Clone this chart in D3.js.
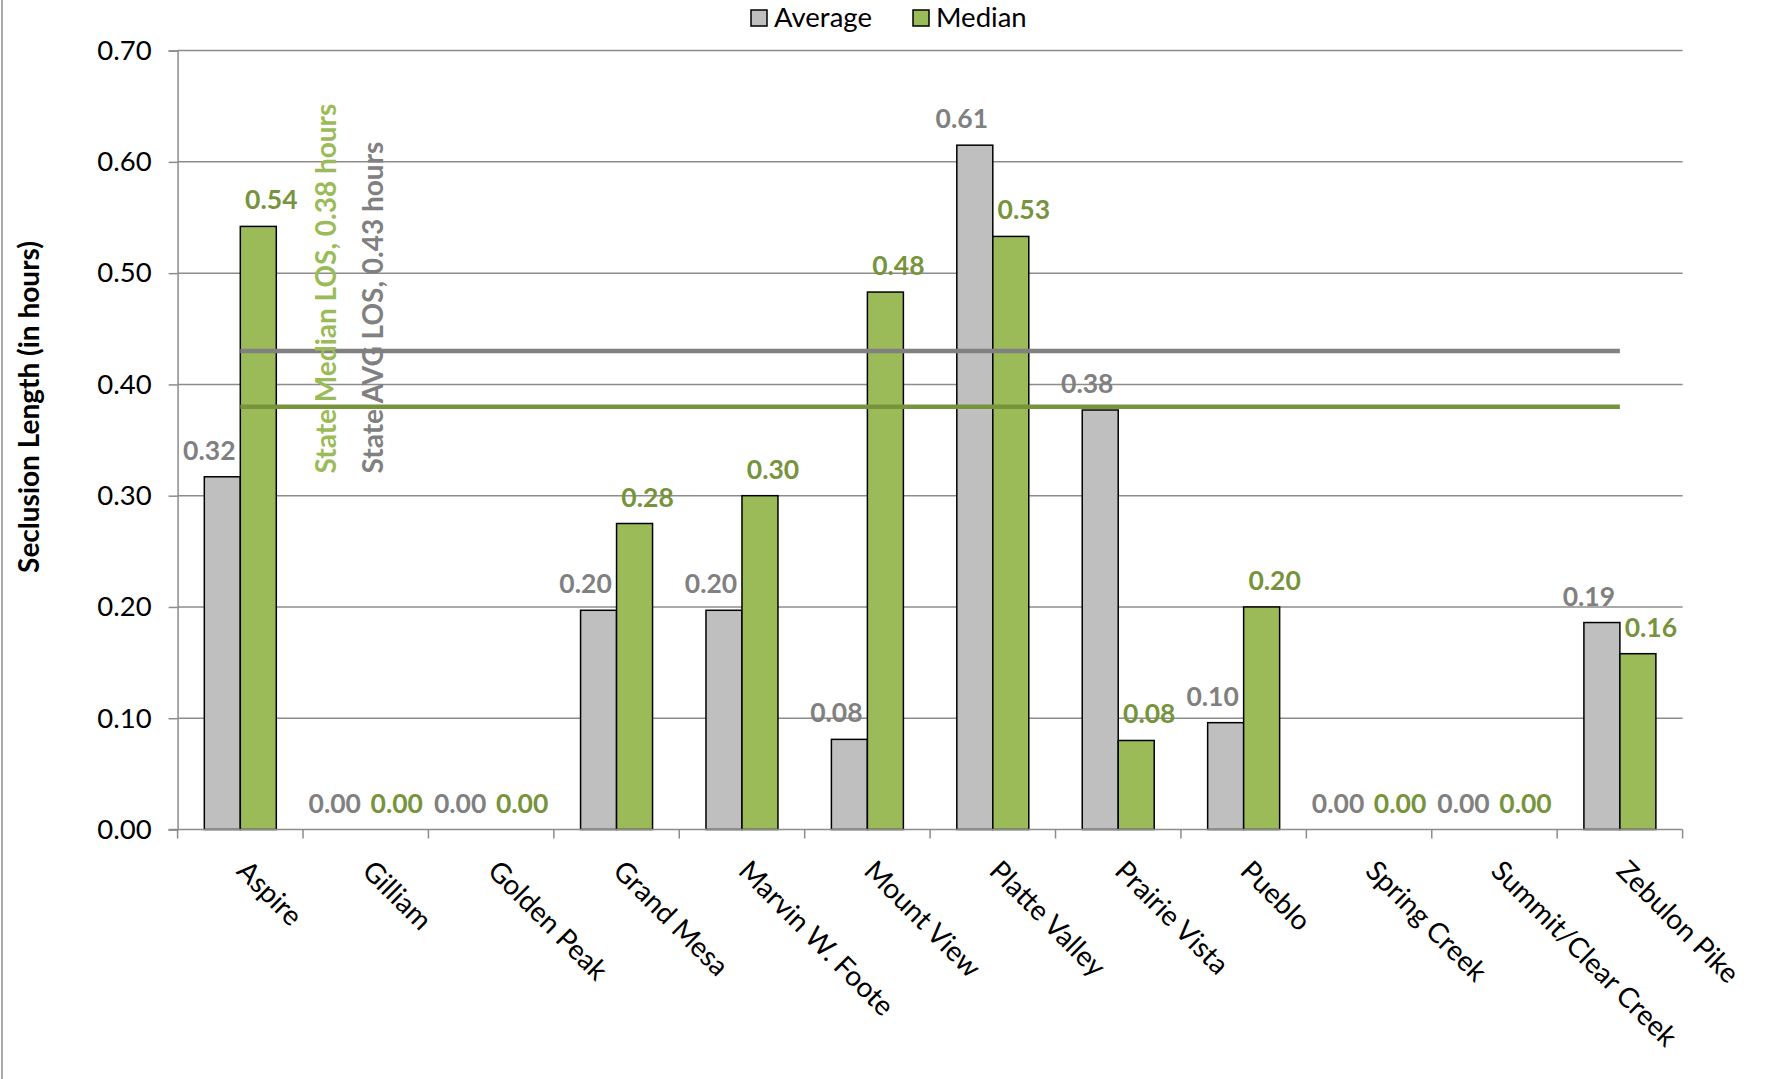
<!DOCTYPE html>
<html lang="en">
<head>
    <meta charset="UTF-8">
    <title>Seclusion Length</title>
    <script src="https://d3js.org/d3.v7.min.js"></script>
    <style>
        body { margin: 0; background: #fff; }
        text { font-family: Lato, "Open Sans", sans-serif; }
    </style>
</head>
<body>
<svg id="chart"></svg>
<script>
    // facility names along the x axis
    const categories = ["Aspire", "Gilliam", "Golden Peak", "Grand Mesa", "Marvin W. Foote",
        "Mount View", "Platte Valley", "Prairie Vista", "Pueblo", "Spring Creek",
        "Summit/Clear Creek", "Zebulon Pike"];
    const seriesNames = ["Average", "Median"];
    const averageValues = [0.317, 0, 0, 0.197, 0.197, 0.081, 0.615, 0.377, 0.096, 0, 0, 0.186];
    const medianValues = [0.542, 0, 0, 0.275, 0.300, 0.483, 0.533, 0.080, 0.200, 0, 0, 0.158];
    const yTicks = [0, 0.1, 0.2, 0.3, 0.4, 0.5, 0.6, 0.7];
    // state reference values
    const stateAvg = 0.43;
    const stateMedian = 0.38;

    const width = 1765, height = 1079;
    const margin = {top: 50.6, right: 82.4, bottom: 249.5, left: 177.6};

    const barFill = {Average: "#bfbfbf", Median: "#9bbb59"};
    const labelFill = {Average: "#808080", Median: "#77933c"};

    const svg = d3.select("#chart")
        .attr("width", width)
        .attr("height", height);

    // chart border on the left edge
    svg.append("line")
        .attr("x1", 2).attr("x2", 2)
        .attr("y1", 0).attr("y2", height)
        .attr("stroke", "#8c8c8c")
        .attr("stroke-width", 1.5);

    const x = d3.scaleBand()
        .domain(categories)
        .range([margin.left, width - margin.right])
        .padding(0);

    const y = d3.scaleLinear()
        .domain([0, 0.7])
        .range([height - margin.bottom, margin.top]);

    const bw = x.bandwidth();
    const x1 = d3.scaleBand()
        .domain(seriesNames)
        .range([bw * 0.213, bw * 0.787]);

    // gridlines
    svg.append("g")
        .selectAll("line")
        .data(yTicks.slice(1))
        .join("line")
        .attr("x1", margin.left)
        .attr("x2", width - margin.right)
        .attr("y1", d => y(d))
        .attr("y2", d => y(d))
        .attr("stroke", "#8c8c8c")
        .attr("stroke-width", 1.5);

    // y axis
    const yAxis = svg.append("g")
        .attr("transform", `translate(${margin.left},0)`)
        .call(d3.axisLeft(y).tickValues(yTicks).tickFormat(d3.format(".2f")).tickSize(9).tickPadding(17));
    yAxis.selectAll("path, line").attr("stroke", "#8c8c8c").attr("stroke-width", 1.5);
    yAxis.selectAll("text").attr("font-size", 27.5).attr("fill", "#000")
        .attr("font-family", "Lato, sans-serif");

    // bars
    const series = [
        {name: "Average", values: averageValues},
        {name: "Median", values: medianValues}
    ];

    const groups = svg.append("g")
        .selectAll("g")
        .data(series)
        .join("g");

    groups.selectAll("rect")
        .data(s => s.values.map((v, i) => ({name: s.name, cat: categories[i], v: v})))
        .join("rect")
        .attr("x", d => x(d.cat) + x1(d.name))
        .attr("y", d => y(d.v))
        .attr("width", x1.bandwidth())
        .attr("height", d => y(0) - y(d.v))
        .attr("fill", d => barFill[d.name])
        .attr("stroke", d => d.v > 0 ? "#000" : "none")
        .attr("stroke-width", 1.5);

    // x axis
    const xAxisY = y(0);
    svg.append("line")
        .attr("x1", margin.left - 9).attr("x2", width - margin.right)
        .attr("y1", xAxisY).attr("y2", xAxisY)
        .attr("stroke", "#8c8c8c").attr("stroke-width", 1.5);
    svg.append("g")
        .selectAll("line")
        .data(categories.concat(["end"]))
        .join("line")
        .attr("x1", (d, i) => margin.left + i * x.step())
        .attr("x2", (d, i) => margin.left + i * x.step())
        .attr("y1", xAxisY)
        .attr("y2", xAxisY + 9)
        .attr("stroke", "#8c8c8c").attr("stroke-width", 1.5);

    svg.append("g")
        .selectAll("text")
        .data(categories)
        .join("text")
        .attr("transform", d => `translate(${x(d) + bw / 2 - 5},${xAxisY + 43}) rotate(45)`)
        .attr("font-size", 28)
        .attr("fill", "#000")
        .text(d => d);

    // state reference lines
    const refLine = v => d3.line()
        .x(d => x(d) + bw / 2)
        .y(() => y(v));
    const ends = [categories[0], categories[categories.length - 1]];
    svg.append("path")
        .attr("d", refLine(stateAvg)(ends))
        .attr("stroke", "#808080").attr("stroke-width", 4.5).attr("fill", "none");
    svg.append("path")
        .attr("d", refLine(stateMedian)(ends))
        .attr("stroke", "#77933c").attr("stroke-width", 4.5).attr("fill", "none");

    // reference annotations
    const annY = y(0.32);
    svg.append("text")
        .attr("transform", `translate(${x(categories[1]) + bw * 0.26},${annY}) rotate(-90)`)
        .attr("font-size", 28).attr("font-weight", "bold")
        .attr("fill", "#9bbb59")
        .text(`State Median LOS, ${stateMedian.toFixed(2)} hours`);
    svg.append("text")
        .attr("transform", `translate(${x(categories[1]) + bw * 0.64},${annY}) rotate(-90)`)
        .attr("font-size", 28).attr("font-weight", "bold")
        .attr("fill", "#808080")
        .text(`State AVG LOS, ${stateAvg.toFixed(2)} hours`);

    // data labels
    const labelShift = {Average: -13, Median: 13};
    groups.selectAll("text")
        .data(s => s.values.map((v, i) => ({name: s.name, cat: categories[i], v: v})))
        .join("text")
        .attr("x", d => x(d.cat) + x1(d.name) + x1.bandwidth() / 2 + labelShift[d.name])
        .attr("y", d => y(d.v) - 17)
        .attr("text-anchor", "middle")
        .attr("font-size", 26.5)
        .attr("font-weight", "bold")
        .attr("fill", d => labelFill[d.name])
        .text(d => d.v.toFixed(2));

    // y axis title
    svg.append("text")
        .attr("transform", `translate(39,407) rotate(-90)`)
        .attr("text-anchor", "middle")
        .attr("font-size", 28)
        .attr("font-weight", "bold")
        .attr("fill", "#000")
        .text("Seclusion Length (in hours)");

    // legend
    const legend = svg.append("g")
        .attr("transform", "translate(751,10)");
    const legendX = {Average: 0, Median: 162};
    seriesNames.forEach(name => {
        const g = legend.append("g").attr("transform", `translate(${legendX[name]},0)`);
        g.append("rect")
            .attr("width", 16).attr("height", 16)
            .attr("fill", barFill[name])
            .attr("stroke", "#000").attr("stroke-width", 1.5);
        g.append("text")
            .attr("x", 23).attr("y", 17)
            .attr("font-size", 27.5)
            .attr("fill", "#000")
            .text(name);
    });
</script>
</body>
</html>
